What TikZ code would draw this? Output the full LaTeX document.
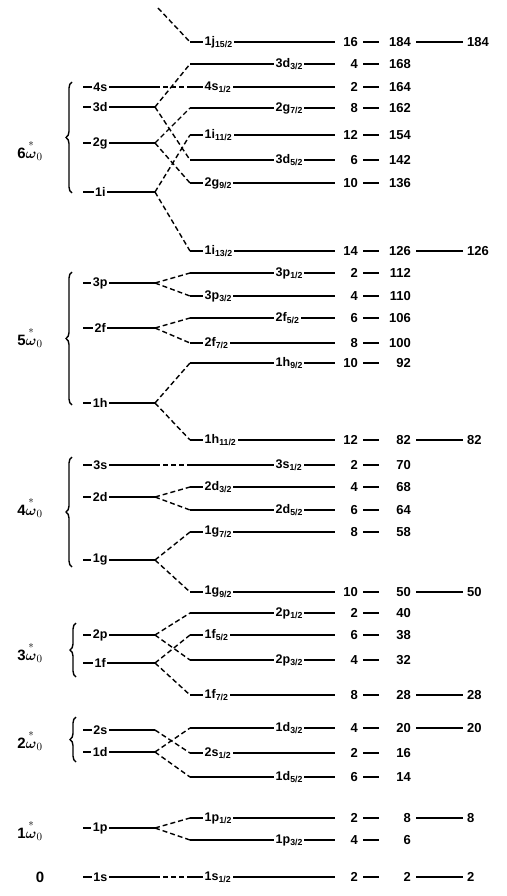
\documentclass[tikz,border=0pt]{standalone}
\usepackage{amsmath}
\usepackage{fontspec}
\setmainfont{Liberation Sans}
\usetikzlibrary{
	decorations.pathreplacing, % shell braces
	positioning
}
\newcommand{\sub}[2]{#1\textsubscript{#2}}
\newcommand{\hw}[1]{#1$\overset{\raisebox{3pt}{$\scriptstyle*$}}{\boldsymbol{\omega}}_0$}
% j-levels on the right: name, y, label x, label, states, running total
\newcommand{\jlevel}[6]{%
	\draw[level] (190,#2) coordinate (#1) -- (335,#2);
	\node[jlabel] (#1-lab) at (#3,#2) {#4};
	\node[count] (#1-n) at (358,#2) {#5};
	\node[count] (#1-sum) at (411,#2) {#6};
	\draw[level] ([xshift=5pt]#1-n.east) -- ++(16,0);
}
% oscillator levels on the left: name, y, label
\newcommand{\nlevel}[3]{%
	\draw[level] (83,#2) -- (155,#2) coordinate (#1-fork)
		node[orbit, pos=.24] (#1) {#3};
}
% closed shells
\newcommand{\magicnum}[2]{%
	\node[magic] (#1-magic) at (#1 -| 467,0) {#2};
	\draw[level] ([xshift=5pt]#1-sum.east) -- ([xshift=-4pt]#1-magic.west);
}

\begin{document}
\begin{tikzpicture}[
	x=1pt, y=-1pt,
	level/.style={line width=1.4pt, black},
	split/.style={line width=1.4pt, dash pattern=on 5pt off 3pt},
	shell/.style={decorate, decoration={brace, amplitude=6pt}, line width=1.4pt},
	orbit/.style={fill=white, inner sep=1.5pt, font=\bfseries\fontsize{12.5}{14}\selectfont},
	jlabel/.style={fill=white, inner sep=1.5pt, anchor=west, font=\bfseries\fontsize{12.5}{14}\selectfont},
	count/.style={anchor=east, inner sep=0pt, font=\bfseries\fontsize{13}{15}\selectfont},
	magic/.style={anchor=west, inner sep=0pt, font=\bfseries\fontsize{13}{15}\selectfont},
	hwlabel/.style={font=\bfseries\fontsize{15}{17}\selectfont}
	]
	\useasboundingbox (0,0) rectangle (506,896);
	
	% --- right column: split levels ---
	\jlevel{j15}{42}{203}{\sub{1j}{15/2}}{16}{184}
	\jlevel{d33}{64}{274}{\sub{3d}{3/2}}{4}{168}
	\jlevel{s41}{87}{203}{\sub{4s}{1/2}}{2}{164}
	\jlevel{g27}{108}{274}{\sub{2g}{7/2}}{8}{162}
	\jlevel{i11}{135}{203}{\sub{1i}{11/2}}{12}{154}
	\jlevel{d35}{160}{274}{\sub{3d}{5/2}}{6}{142}
	\jlevel{g29}{183}{203}{\sub{2g}{9/2}}{10}{136}
	\jlevel{i13}{251}{203}{\sub{1i}{13/2}}{14}{126}
	\jlevel{p31}{273}{274}{\sub{3p}{1/2}}{2}{112}
	\jlevel{p33}{296}{203}{\sub{3p}{3/2}}{4}{110}
	\jlevel{f25}{318}{274}{\sub{2f}{5/2}}{6}{106}
	\jlevel{f27}{343}{203}{\sub{2f}{7/2}}{8}{100}
	\jlevel{h19}{363}{274}{\sub{1h}{9/2}}{10}{92}
	\jlevel{h11}{440}{203}{\sub{1h}{11/2}}{12}{82}
	\jlevel{s31}{465}{274}{\sub{3s}{1/2}}{2}{70}
	\jlevel{d23}{487}{203}{\sub{2d}{3/2}}{4}{68}
	\jlevel{d25}{510}{274}{\sub{2d}{5/2}}{6}{64}
	\jlevel{g17}{532}{203}{\sub{1g}{7/2}}{8}{58}
	\jlevel{g19}{592}{203}{\sub{1g}{9/2}}{10}{50}
	\jlevel{p21}{613}{274}{\sub{2p}{1/2}}{2}{40}
	\jlevel{f15}{635}{203}{\sub{1f}{5/2}}{6}{38}
	\jlevel{p23}{660}{274}{\sub{2p}{3/2}}{4}{32}
	\jlevel{f17}{695}{203}{\sub{1f}{7/2}}{8}{28}
	\jlevel{d13}{728}{274}{\sub{1d}{3/2}}{4}{20}
	\jlevel{s21}{753}{203}{\sub{2s}{1/2}}{2}{16}
	\jlevel{d15}{777}{274}{\sub{1d}{5/2}}{6}{14}
	\jlevel{p11}{818}{203}{\sub{1p}{1/2}}{2}{8}
	\jlevel{p13}{840}{274}{\sub{1p}{3/2}}{4}{6}
	\jlevel{s11}{877}{203}{\sub{1s}{1/2}}{2}{2}
	
	% magic numbers
	\magicnum{j15}{184}
	\magicnum{i13}{126}
	\magicnum{h11}{82}
	\magicnum{g19}{50}
	\magicnum{f17}{28}
	\magicnum{d13}{20}
	\magicnum{p11}{8}
	\magicnum{s11}{2}
	
	% --- left column: oscillator levels ---
	\nlevel{n4s}{87}{4s}
	\nlevel{n3d}{107}{3d}
	\nlevel{n2g}{143}{2g}
	\nlevel{n1i}{192}{1i}
	\nlevel{n3p}{283}{3p}
	\nlevel{n2f}{328}{2f}
	\nlevel{n1h}{403}{1h}
	\nlevel{n3s}{465}{3s}
	\nlevel{n2d}{497}{2d}
	\nlevel{n1g}{560}{1g}
	\nlevel{n2p}{635}{2p}
	\nlevel{n1f}{663}{1f}
	\nlevel{n2s}{730}{2s}
	\nlevel{n1d}{752}{1d}
	\nlevel{n1p}{828}{1p}
	\nlevel{n1s}{877}{1s}
	
	% spin-orbit splitting
	\coordinate (j15-from) at (158,8);
	\draw[split] (j15-from) -- (j15);
	\draw[split] (n4s-fork) -- (s41);
	\draw[split] (n3d-fork) -- (d33);
	\draw[split] (n3d-fork) -- (d35);
	\draw[split] (n2g-fork) -- (g27);
	\draw[split] (n2g-fork) -- (g29);
	\draw[split] (n1i-fork) -- (i11);
	\draw[split] (n1i-fork) -- (i13);
	\draw[split] (n3p-fork) -- (p31);
	\draw[split] (n3p-fork) -- (p33);
	\draw[split] (n2f-fork) -- (f25);
	\draw[split] (n2f-fork) -- (f27);
	\draw[split] (n1h-fork) -- (h19);
	\draw[split] (n1h-fork) -- (h11);
	\draw[split] (n3s-fork) -- (s31);
	\draw[split] (n2d-fork) -- (d23);
	\draw[split] (n2d-fork) -- (d25);
	\draw[split] (n1g-fork) -- (g17);
	\draw[split] (n1g-fork) -- (g19);
	\draw[split] (n2p-fork) -- (p21);
	\draw[split] (n2p-fork) -- (p23);
	\draw[split] (n1f-fork) -- (f15);
	\draw[split] (n1f-fork) -- (f17);
	\draw[split] (n2s-fork) -- (s21);
	\draw[split] (n1d-fork) -- (d13);
	\draw[split] (n1d-fork) -- (d15);
	\draw[split] (n1p-fork) -- (p11);
	\draw[split] (n1p-fork) -- (p13);
	\draw[split] (n1s-fork) -- (s11);
	
	% --- oscillator shells ---
	\draw[shell] (72,193) -- (72,82);
	\draw[shell] (72,405) -- (72,272);
	\draw[shell] (72,567) -- (72,457);
	\draw[shell] (76,677) -- (76,623);
	\draw[shell] (76,762) -- (76,717);
	\node[hwlabel] (hw6) at (30,150) {\hw{6}};
	\node[hwlabel] (hw5) at (30,337) {\hw{5}};
	\node[hwlabel] (hw4) at (30,507) {\hw{4}};
	\node[hwlabel] (hw3) at (30,652) {\hw{3}};
	\node[hwlabel] (hw2) at (30,740) {\hw{2}};
	\node[hwlabel] (hw1) at (30,830) {\hw{1}};
	\node[hwlabel] (hw0) at (40,877) {0};
\end{tikzpicture}
\end{document}
